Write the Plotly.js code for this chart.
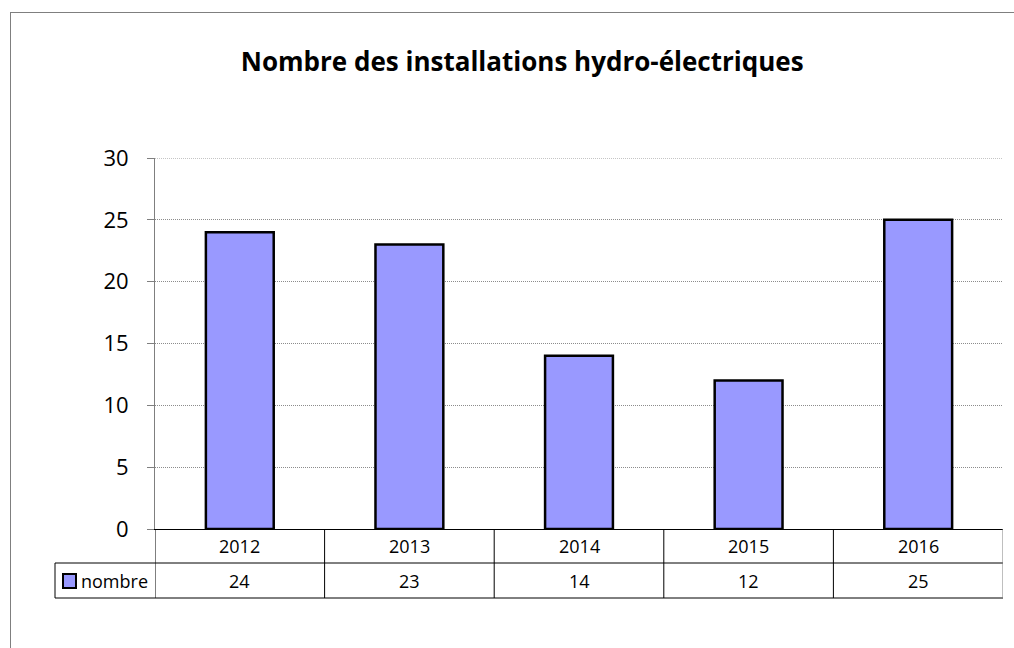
<!DOCTYPE html>
<html>
<head>
<meta charset="utf-8">
<script src="https://cdn.plot.ly/plotly-3.0.1.min.js"></script>
<style>
  html, body { margin: 0; padding: 0; background: #fff; }
  #wrap { position: relative; width: 1014px; height: 648px; overflow: hidden; }
  #chart { width: 1014px; height: 648px; }
  #frame { position: absolute; left: 10px; top: 12px; width: 1100px; height: 700px;
           border-top: 1px solid #7f7f7f; border-left: 1px solid #7f7f7f; pointer-events: none; }
</style>
</head>
<body>
<div id="wrap">
  <div id="chart"></div>
  <div id="frame"></div>
</div>
<script>
const titleText = "Nombre des installations hydro-électriques";
const seriesName = "nombre";
const years = ["2012", "2013", "2014", "2015", "2016"];
const nombre = [24, 23, 14, 12, 25];
const yTicks = [0, 5, 10, 15, 20, 25, 30];

const FONT = "'Open Sans', sans-serif";
const plotTopPx = 158, plotBottomPx = 529, plotLeftPx = 155, plotRightPx = 1003;
const plotH = plotBottomPx - plotTopPx;
const plotW = plotRightPx - plotLeftPx;
const row1Bottom = -(563 - plotBottomPx) / plotH;
const row2Bottom = -(598 - plotBottomPx) / plotH;
const legendLeft = (55 - plotLeftPx) / plotW;
const lineColor = "#000000";
const gridDash = "1px,1px";

const n = years.length;
const shapes = [];
// top gridline (at range max)
shapes.push({type: "line", xref: "paper", yref: "y", x0: 0, x1: 1, y0: yTicks[yTicks.length - 1], y1: yTicks[yTicks.length - 1],
             line: {color: "#8c8c8c", width: 1, dash: gridDash}, layer: "below"});
// horizontal table lines
shapes.push({type: "line", xref: "paper", yref: "paper", x0: legendLeft, x1: 1, y0: row1Bottom, y1: row1Bottom, line: {color: lineColor, width: 1}});
shapes.push({type: "line", xref: "paper", yref: "paper", x0: legendLeft, x1: 1, y0: row2Bottom, y1: row2Bottom, line: {color: lineColor, width: 1}});
// left legend cell border
shapes.push({type: "line", xref: "paper", yref: "paper", x0: legendLeft, x1: legendLeft, y0: row1Bottom, y1: row2Bottom, line: {color: lineColor, width: 1}});
// vertical separators from category boundaries
for (let i = 0; i <= n; i++) {
  shapes.push({type: "line", xref: "x", yref: "paper", x0: i - 0.5, x1: i - 0.5, y0: 0, y1: row2Bottom,
               line: {color: (i === n ? "#7f7f7f" : lineColor), width: 1}});
}
// legend key square
shapes.push({type: "rect", xref: "paper", yref: "paper",
  x0: (63 - plotLeftPx) / plotW, x1: (76 - plotLeftPx) / plotW,
  y0: -(574 - plotBottomPx) / plotH, y1: -(588 - plotBottomPx) / plotH,
  fillcolor: "#9999FF", line: {color: "#000", width: 2}});

const annotations = [];
years.forEach((yr, i) => {
  annotations.push({x: i, xref: "x", y: row1Bottom / 2, yref: "paper", text: yr, showarrow: false,
    font: {family: FONT, size: 18, color: "#000"}, xanchor: "center", yanchor: "middle"});
  annotations.push({x: i, xref: "x", y: (row1Bottom + row2Bottom) / 2, yref: "paper", text: String(nombre[i]), showarrow: false,
    font: {family: FONT, size: 18, color: "#000"}, xanchor: "center", yanchor: "middle"});
});
annotations.push({x: (79 - plotLeftPx) / plotW, xref: "paper", y: (row1Bottom + row2Bottom) / 2, yref: "paper",
  text: seriesName, showarrow: false, xanchor: "left", yanchor: "middle",
  font: {family: FONT, size: 18, color: "#000"}});

const trace = {
  type: "bar",
  x: years.map((_, i) => i),
  y: nombre,
  name: seriesName,
  marker: {color: "#9999FF", line: {color: "#000000", width: 2.5}},
  hoverinfo: "none"
};

const layout = {
  width: 1014, height: 648,
  margin: {l: plotLeftPx, r: 1014 - plotRightPx, t: plotTopPx, b: 648 - plotBottomPx, pad: 0},
  paper_bgcolor: "#ffffff", plot_bgcolor: "#ffffff",
  showlegend: false,
  bargap: 0.6,
  title: {text: "<b>" + titleText + "</b>", x: 0.515, xanchor: "center", y: 1 - 62 / 648, yanchor: "middle",
          font: {family: FONT, size: 26, color: "#000"}},
  xaxis: {range: [-0.5, n - 0.5], showticklabels: false, showgrid: false, zeroline: false,
          showline: true, linecolor: lineColor, linewidth: 1, ticks: "", fixedrange: true},
  yaxis: {range: [0, 30], tickvals: yTicks, ticktext: yTicks.map(String), ticks: "outside", ticklen: 7,
          tickcolor: "#7f7f7f", tickwidth: 1, showline: true, linecolor: "#7f7f7f", linewidth: 1,
          showgrid: true, gridcolor: "#8c8c8c", griddash: gridDash, gridwidth: 1, zeroline: false,
          ticklabelstandoff: 14, tickfont: {family: FONT, size: 22, color: "#000"}, fixedrange: true},
  shapes: shapes,
  annotations: annotations
};

Plotly.newPlot("chart", [trace], layout, {staticPlot: true, displayModeBar: false});
</script>
</body>
</html>
